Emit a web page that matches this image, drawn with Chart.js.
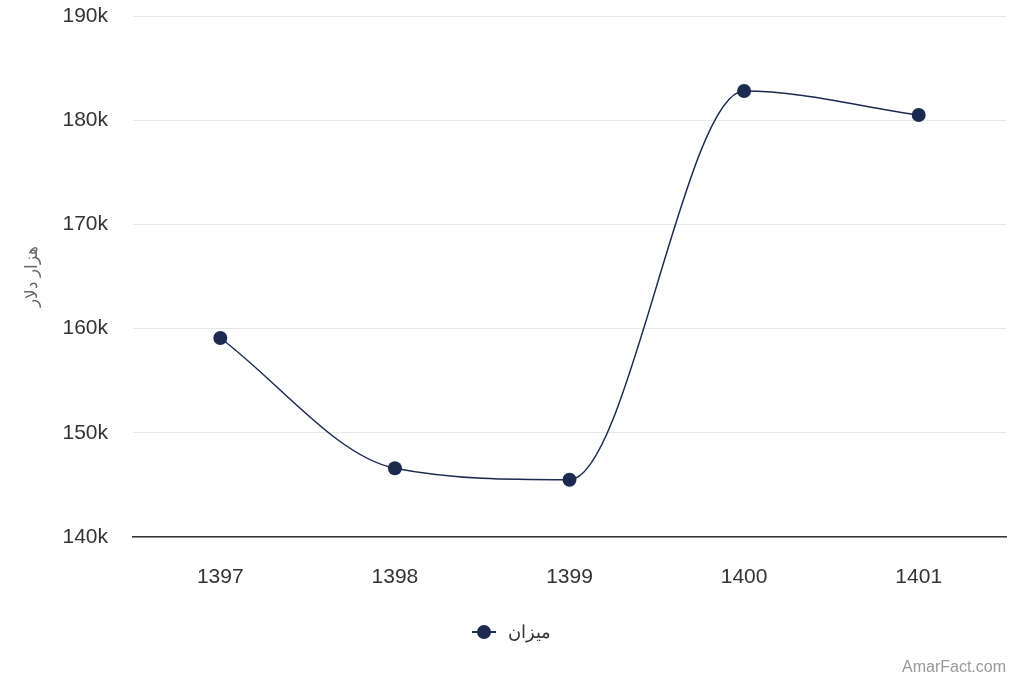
<!DOCTYPE html>
<html>
<head>
<meta charset="utf-8">
<script src="https://cdn.jsdelivr.net/npm/chart.js@4"></script>
<style>
  body { margin: 0; background: #fff; font-family: "Liberation Sans", Arial, sans-serif; }
  #wrap { position: relative; width: 1024px; height: 683px; }
  #legend { position: absolute; left: 472px; top: 618px; height: 28px; display: flex; align-items: center; color: #333; font-size: 18px; }
  #legend .sym { position: relative; width: 24px; height: 14px; margin-right: 12px; }
  #legend .sym .ln { position: absolute; left: 0; right: 0; top: 6px; height: 2px; background: #1b2a4e; }
  #legend .sym .dot { position: absolute; left: 5px; top: 0; width: 14px; height: 14px; border-radius: 50%; background: #1b2a4e; }
  #credit { position: absolute; right: 18px; top: 658px; color: #999; font-size: 16px; }
</style>
</head>
<body>
<div id="wrap">
  <canvas id="chart" width="1024" height="683"></canvas>
  <div id="legend"><span class="sym"><span class="ln"></span><span class="dot"></span></span><span dir="rtl">ميزان</span></div>
  <div id="credit">AmarFact.com</div>
</div>
<script>
const years = ['1397', '1398', '1399', '1400', '1401'];
const amounts = [159100, 146600, 145500, 182800, 180500];
const seriesName = 'ميزان';
const yTitle = 'هزار دلار';

const ctx = document.getElementById('chart').getContext('2d');
const chart = new Chart(ctx, {
	type: 'line',
	data: {
		labels: years,
		datasets: [{
			label: seriesName,
			data: amounts,
			borderColor: '#1b2a4e',
			backgroundColor: '#1b2a4e',
			borderWidth: 1.5,
			cubicInterpolationMode: 'monotone',
			pointRadius: 7,
			pointHoverRadius: 7,
			pointBackgroundColor: '#1b2a4e',
			pointBorderWidth: 0
		}]
	},
	options: {
		responsive: false,
		animation: false,
		layout: {
			padding: { top: 16, right: 18, left: 22, bottom: 0 }
		},
		plugins: {
			legend: { display: false },
			tooltip: { enabled: false }
		},
		scales: {
			x: {
				offset: true,
				grid: { display: false, drawTicks: false },
				border: { display: true, color: '#333', width: 1.5 },
				ticks: {
					color: '#333',
					padding: 28,
					font: { family: 'Liberation Sans', size: 21 }
				},
				afterFit: (scale) => { scale.height = 146; scale.paddingLeft = 0; scale.paddingRight = 0; }
			},
			y: {
				min: 140000,
				max: 190000,
				grid: { color: '#e6e6e6', lineWidth: 1, drawTicks: false },
				border: { display: false },
				ticks: {
					stepSize: 10000,
					color: '#333',
					padding: 25,
					font: { family: 'Liberation Sans', size: 21 },
					callback: (v) => (v / 1000) + 'k'
				},
				title: {
					display: true,
					text: yTitle,
					color: '#666',
					padding: 0,
					font: { family: 'Liberation Sans', size: 17 }
				},
				afterFit: (scale) => { scale.width = 111; scale.paddingTop = 0; scale.paddingBottom = 0; }
			}
		}
	}
});
</script>
</body>
</html>
